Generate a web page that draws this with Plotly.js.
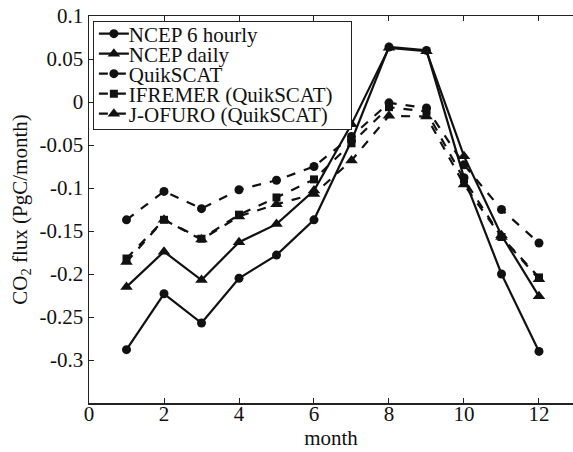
<!DOCTYPE html>
<html>
<head>
<meta charset="utf-8">
<script src="https://cdn.plot.ly/plotly-3.0.1.min.js"></script>
<style>html,body{margin:0;padding:0;background:#fff;}#chart{width:573px;height:452px;}</style>
</head>
<body>
<div id="chart"></div>
<script>
const months = [1,2,3,4,5,6,7,8,9,10,11,12];
const ncep6h    = [-0.288,-0.223,-0.257,-0.205,-0.178,-0.137,-0.045,0.064,0.060,-0.088,-0.200,-0.290];
const ncepDaily = [-0.215,-0.174,-0.207,-0.163,-0.142,-0.103,-0.026,0.063,0.059,-0.063,-0.155,-0.226];
const quikscat  = [-0.137,-0.104,-0.124,-0.102,-0.091,-0.075,-0.040,-0.001,-0.007,-0.073,-0.125,-0.164];
const ifremer   = [-0.182,-0.137,-0.159,-0.131,-0.111,-0.090,-0.048,-0.006,-0.011,-0.090,-0.157,-0.204];
const jofuro    = [-0.186,-0.137,-0.160,-0.133,-0.119,-0.107,-0.068,-0.016,-0.017,-0.096,-0.157,-0.206];
const seriesNames = ["NCEP 6 hourly","NCEP daily","QuikSCAT","IFREMER (QuikSCAT)","J-OFURO (QuikSCAT)"];
const xTickVals = [0,2,4,6,8,10,12];
const yTickVals = [0.1,0.05,0,-0.05,-0.1,-0.15,-0.2,-0.25,-0.3];
const yTickText = ["0.1","0.05","0","-0.05","-0.1","-0.15","-0.2","-0.25","-0.3"];

const serif = '"Liberation Serif", "Times New Roman", Times, serif';
function tr(y, name, dash, symbol, size){
  return {x: months, y: y, name: name, type: 'scatter', mode: 'lines+markers',
    line: {color: '#111', width: 2.2, dash: dash},
    marker: {symbol: symbol, size: size, color: '#111'}};
}
const data = [
  tr(ncep6h, seriesNames[0], 'solid', 'circle', 9),
  tr(ncepDaily, seriesNames[1], 'solid', 'triangle-up', 11),
  tr(quikscat, seriesNames[2], 'dash', 'circle', 9),
  tr(ifremer, seriesNames[3], 'dash', 'square', 8),
  tr(jofuro, seriesNames[4], 'dash', 'triangle-up', 11)
];
const layout = {
  width: 573, height: 452,
  margin: {l: 89, r: 0, t: 16, b: 49},
  paper_bgcolor: '#fff', plot_bgcolor: '#fff',
  font: {family: serif, size: 21, color: '#111'},
  showlegend: true,
  legend: {x: 0.008, y: 0.988, xanchor: 'left', yanchor: 'top',
    bordercolor: '#222', borderwidth: 1, bgcolor: '#fff',
    font: {family: serif, size: 21, color: '#111'},
    tracegroupgap: 0, itemwidth: 30},
  xaxis: {range: [0, 12.907], tickvals: xTickVals, ticks: 'inside', ticklen: 5,
    showline: true, linecolor: '#222', linewidth: 1.5, mirror: 'ticks',
    showgrid: false, zeroline: false, tickcolor: '#222',
    ticklabelstandoff: -9,
    tickfont: {family: serif, size: 21},
    title: {text: 'month', standoff: 2, font: {family: serif, size: 21}}},
  yaxis: {range: [-0.35, 0.1], tickvals: yTickVals, ticktext: yTickText,
    ticks: 'inside', ticklen: 5, showline: true, linecolor: '#222', linewidth: 1.5,
    showgrid: false, zeroline: false, tickcolor: '#222',
    tickfont: {family: serif, size: 21},
    title: {text: 'CO<sub>2</sub> flux (PgC/month)', standoff: 6, font: {family: serif, size: 21}}}
};
Plotly.newPlot('chart', data, layout, {displayModeBar: false, staticPlot: true}).then(function(gd){
  // tighten legend row spacing (MATLAB-like compact legend)
  const leg = gd.querySelector('.legend');
  if (!leg) return;
  const items = leg.querySelectorAll('.traces');
  const rowH = 20, firstY = 13;
  items.forEach(function(el, i){
    const t = el.getAttribute('transform') || '';
    const m = /translate\(\s*([-\d.]+)[ ,]+([-\d.]+)\s*\)/.exec(t);
    const x = m ? parseFloat(m[1]) : 1;
    el.setAttribute('transform', 'translate(' + x + ',' + (firstY + i * rowH) + ')');
    const txt = el.querySelector('text.legendtext');
    if (txt) txt.setAttribute('x', 35);
  });
  const bg = leg.querySelector('rect.bg');
  if (bg) {
    bg.setAttribute('height', 2 * firstY + (items.length - 1) * rowH + 2);
    const w = parseFloat(bg.getAttribute('width'));
    if (!isNaN(w)) bg.setAttribute('width', w + 8);
  }
});
</script>
</body>
</html>
